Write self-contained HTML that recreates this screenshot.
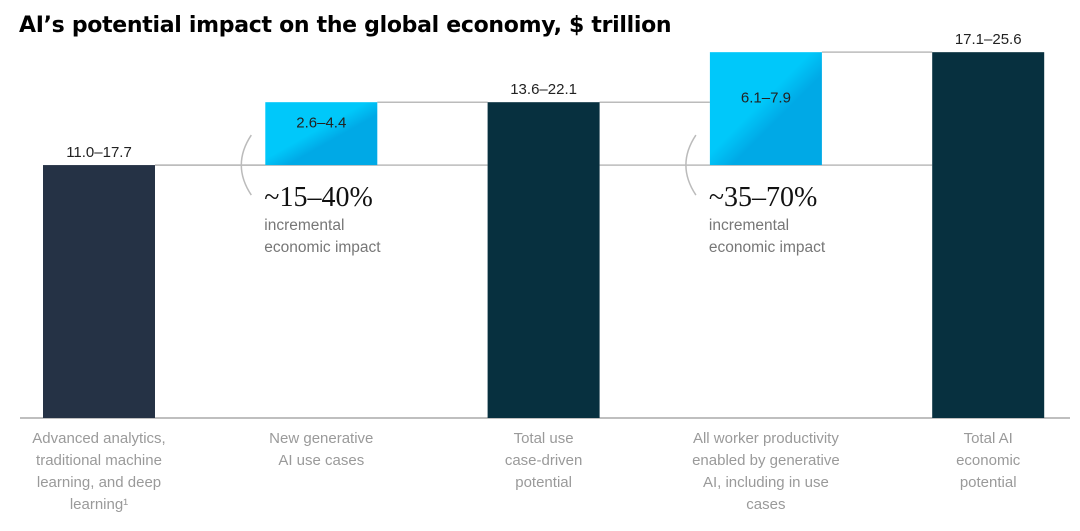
<!DOCTYPE html>
<html><head><meta charset="utf-8"><style>
body{margin:0;background:#fff;width:1080px;height:531px;overflow:hidden;font-family:"Liberation Sans",sans-serif}
#title{position:absolute;left:19px;top:13px;font-size:22px;font-weight:bold;color:#000;font-family:"DejaVu Sans","Liberation Sans",sans-serif;letter-spacing:-0.3px}
</style></head><body>
<div id="title">AI’s potential impact on the global economy, $ trillion</div>
<svg id="chart" width="1080" height="531" style="position:absolute;left:0;top:0">
<defs>
<linearGradient id="cy" x1="0" y1="0" x2="1" y2="1"><stop offset="0.45" stop-color="#00c8fa"/><stop offset="0.6" stop-color="#00a9e6"/></linearGradient>
</defs>
</svg>
<script>
const categories=[["Advanced analytics,","traditional machine","learning, and deep","learning¹"],["New generative","AI use cases"],["Total use","case-driven","potential"],["All worker productivity","enabled by generative","AI, including in use","cases"],["Total AI","economic","potential"]];
const lowValues=[11.0,2.6,13.6,6.1,17.1];
const highValues=[17.7,4.4,22.1,7.9,25.6];
const barBase=[0,17.7,0,17.7,0];
const barTop=[17.7,22.1,22.1,25.6,25.6];
const isIncrement=[false,true,false,true,false];
const pctLabels=["","~15–40%","","~35–70%",""];
const svg=document.getElementById('chart');
const NS="http://www.w3.org/2000/svg";
const y0=418, k=14.29;
const y=v=>y0-v*k;
const x=i=>43+i*222.3;
const bw=112;
function mk(t,a){const e=document.createElementNS(NS,t);for(const n in a)e.setAttribute(n,a[n]);svg.appendChild(e);return e;}
// connectors
for(let i=0;i<categories.length-1;i++){
 const l=mk('line',{x1:x(i)+bw,x2:x(i+1),y1:y(barTop[i]),y2:y(barTop[i]),stroke:'#bbb','stroke-width':1.5});
 
 
}
for(let i=0;i<categories.length;i++){
 if(isIncrement[i]){
  const l=mk('line',{x1:x(i-1)+bw,x2:x(i+1),y1:y(barBase[i]),y2:y(barBase[i]),stroke:'#bbb','stroke-width':1.5});
  
  
 }
}
const base=mk('line',{x1:20,x2:1070,y1:y0,y2:y0,stroke:'#aaa','stroke-width':1.5});


for(let i=0;i<categories.length;i++){
 const top=y(barTop[i]), bot=y(barBase[i]);
 const r=mk('rect',{x:x(i),y:top,width:bw,height:bot-top,fill:isIncrement[i]?'url(#cy)':(i==0?'#253245':'#07303f')});
 
 
 const txt=lowValues[i].toFixed(1)+'–'+highValues[i].toFixed(1);
 const t=mk('text',{x:x(i)+bw/2,y:isIncrement[i]?(top+bot)/2-6:top-8,'text-anchor':'middle','font-size':15,fill:'#222'});
 t.textContent=txt;
 
 
 categories[i].forEach((s,j)=>{
  const c=mk('text',{x:x(i)+bw/2,y:443+j*22,'text-anchor':'middle','font-size':15,fill:'#9a9a9a'});
  c.textContent=s;
  
  
 });
 if(isIncrement[i]){
  const bx=x(i)+4, by=y(barBase[i]);
  const arc=mk('path',{d:`M ${bx-18} ${by-30} Q ${bx-38} ${by} ${bx-18} ${by+30}`,fill:'none',stroke:'#bbb','stroke-width':1.5});
  
  
  const p=mk('text',{x:x(i)-1,y:by+41,'font-size':28,'font-family':'Liberation Serif, serif',fill:'#111'});
  p.textContent=pctLabels[i];
  
  
  ['incremental','economic impact'].forEach((s,j)=>{
   const q=mk('text',{x:x(i)-1,y:by+65+j*22,'font-size':15.5,fill:'#777'});
   q.textContent=s;
   
   
  });
 }
}
</script>
</body></html>
